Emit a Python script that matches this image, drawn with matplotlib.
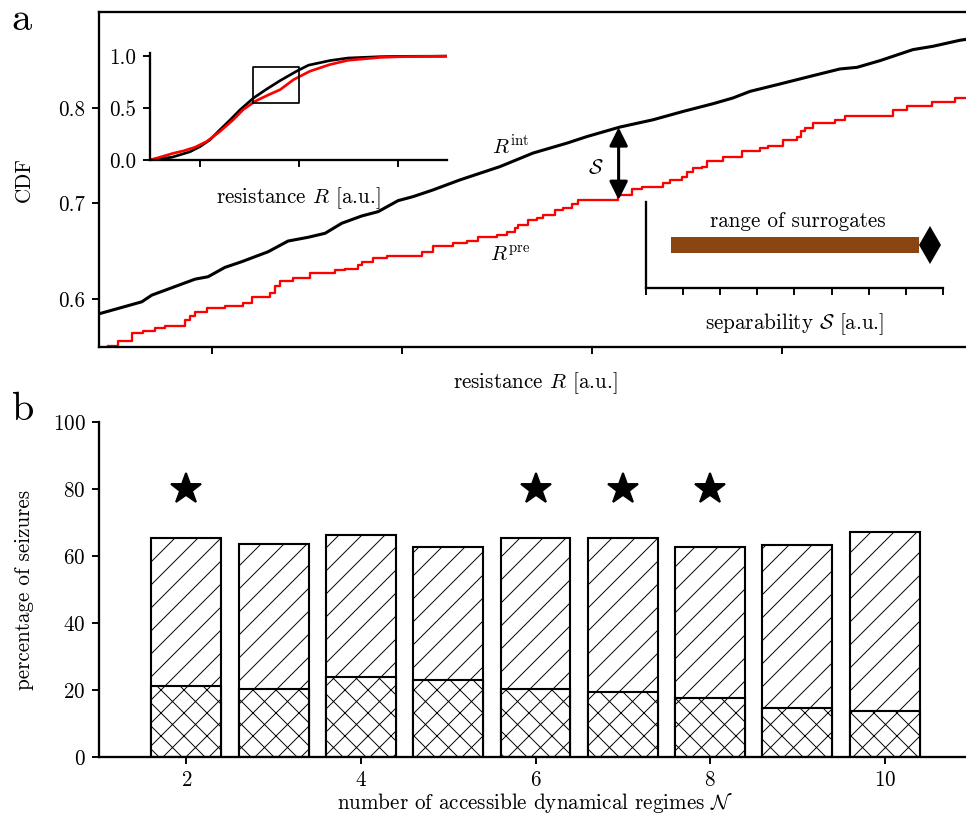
import matplotlib
matplotlib.use("Agg")
import matplotlib.pyplot as plt
import numpy as np

plt.rcParams['font.family'] = 'serif'
plt.rcParams['font.serif'] = ['cmr10']
plt.rcParams['mathtext.fontset'] = 'cm'
plt.rcParams['axes.formatter.use_mathtext'] = True
plt.rcParams['font.size'] = 11
plt.rcParams['axes.linewidth'] = 1.2
plt.rcParams['hatch.linewidth'] = 0.5
plt.rcParams['xtick.major.width'] = 1.0
plt.rcParams['ytick.major.width'] = 1.0

# --- panel a: empirical CDFs (zoomed) ---
r_int_x = [0.411, 0.630, 0.683, 0.911, 0.979, 1.068, 1.156, 1.295, 1.400, 1.505,
           1.595, 1.683, 1.788, 1.874, 1.979, 2.058, 2.163, 2.305, 2.516, 2.689,
           2.868, 2.974, 3.147, 3.321, 3.479, 3.637, 3.742, 3.832, 3.989, 4.163,
           4.305, 4.395, 4.516, 4.689, 4.795, 4.937, 5.000]
r_int_y = [0.5850, 0.5972, 0.6042, 0.6209, 0.6234, 0.6332, 0.6391, 0.6495, 0.6607, 0.6646,
           0.6688, 0.6793, 0.6869, 0.6914, 0.7029, 0.7071, 0.7141, 0.7246, 0.7385, 0.7526,
           0.7630, 0.7699, 0.7798, 0.7874, 0.7961, 0.8042, 0.8102, 0.8171, 0.8248, 0.8335,
           0.8405, 0.8422, 0.8492, 0.8607, 0.8642, 0.8705, 0.8723]

r_pre_x = [0.453, 0.505, 0.577, 0.637, 0.700, 0.753, 0.858, 0.884, 0.911, 0.972,
           1.068, 1.163, 1.209, 1.305, 1.332, 1.358, 1.426, 1.516, 1.647, 1.700,
           1.768, 1.788, 1.847, 1.919, 2.104, 2.163, 2.268, 2.342, 2.400, 2.500,
           2.553, 2.595, 2.611, 2.663, 2.711, 2.742, 2.805, 2.847, 2.895, 2.926,
           3.137, 3.211, 3.263, 3.374, 3.411, 3.474, 3.500, 3.532, 3.577, 3.604,
           3.689, 3.788, 3.884, 3.926, 4.005, 4.079, 4.098, 4.121, 4.163, 4.279,
           4.332, 4.584, 4.658, 4.789, 4.911, 5.000]
r_pre_y = [0.5511, 0.5560, 0.5641, 0.5668, 0.5699, 0.5721, 0.5780, 0.5822, 0.5861, 0.5909,
           0.5931, 0.5955, 0.6018, 0.6060, 0.6136, 0.6192, 0.6223, 0.6275, 0.6300, 0.6317,
           0.6356, 0.6391, 0.6426, 0.6450, 0.6495, 0.6558, 0.6583, 0.6610, 0.6646, 0.6670,
           0.6705, 0.6740, 0.6775, 0.6827, 0.6851, 0.6880, 0.6932, 0.6950, 0.6995, 0.7037,
           0.7089, 0.7149, 0.7176, 0.7212, 0.7246, 0.7274, 0.7333, 0.7369, 0.7385, 0.7448,
           0.7480, 0.7550, 0.7584, 0.7602, 0.7658, 0.7699, 0.7752, 0.7787, 0.7840, 0.7874,
           0.7916, 0.7972, 0.8021, 0.8055, 0.8102, 0.8102]

sep_x = 3.14
sep_lo, sep_hi = 0.7037, 0.7795

# inset: full CDFs
full_int_x = [0.0, 0.10, 0.44, 0.81, 1.01, 1.21, 1.41, 1.62, 1.82, 2.09, 2.36, 2.63,
              2.96, 3.20, 3.64, 4.0, 4.65, 5.0, 6.0]
full_int_y = [0.0, 0.010, 0.026, 0.080, 0.129, 0.194, 0.290, 0.387, 0.484, 0.597, 0.684,
              0.765, 0.855, 0.913, 0.958, 0.982, 0.995, 0.998, 1.0]
full_pre_x = [0.0, 0.10, 0.47, 0.67, 0.91, 1.14, 1.41, 1.68, 1.88, 2.12, 2.36, 2.63,
              2.90, 3.23, 3.64, 4.0, 4.65, 5.0, 6.0]
full_pre_y = [0.0, 0.013, 0.065, 0.087, 0.123, 0.177, 0.274, 0.387, 0.484, 0.565, 0.620,
              0.678, 0.774, 0.855, 0.920, 0.960, 0.988, 0.994, 1.0]
zoom_box = (2.07, 0.55, 3.01, 0.90)

# inset: surrogates
surr_lo, surr_hi = 0.68, 7.35
s_orig = 7.65

# --- panel b ---
regimes = [2, 3, 4, 5, 6, 7, 8, 9, 10]
pct_total = [65.4, 63.5, 66.2, 62.6, 65.4, 65.4, 62.6, 63.4, 67.1]
pct_lower = [21.2, 20.3, 24.0, 23.1, 20.3, 19.3, 17.5, 14.7, 13.8]
significant = [2, 6, 7, 8]

fig = plt.figure(figsize=(7.0, 5.935), dpi=138)

# panel a
ax = fig.add_axes([0.1025, 0.5763, 0.9037, 0.409])
ax.plot(r_int_x, r_int_y, color='black', lw=1.6)
ax.step(r_pre_x, r_pre_y, where='post', color='red', lw=1.2)
ax.annotate('', xy=(sep_x, sep_hi), xytext=(sep_x, sep_lo),
            arrowprops=dict(arrowstyle='<|-|>', color='black', lw=1.6,
                            mutation_scale=20, shrinkA=0, shrinkB=0))
ax.text(sep_x - 0.08, 0.737, r'$\mathcal{S}$', ha='right', va='center')
ax.text(2.57, 0.760, r'$R^{\rm int}$', ha='center', va='center')
ax.text(2.57, 0.646, r'$R^{\rm pre}$', ha='center', va='center')
ax.set_xlim(0.405, 5.0)
ax.set_ylim(0.55, 0.90)
ax.set_xticks([1, 2, 3, 4])
ax.set_xticklabels([])
ax.set_yticks([0.6, 0.7, 0.8])
ax.set_yticklabels(['0.6', '0.7', '0.8'])
ax.spines['right'].set_visible(False)
ax.set_ylabel('CDF')
ax.yaxis.set_label_coords(-0.075, 0.5)
ax.set_xlabel(r'resistance $R$ [a.u.]')
ax.xaxis.set_label_coords(0.5, -0.07)

ins = fig.add_axes([0.1553, 0.8046, 0.3075, 0.1306])
ins.plot(full_int_x, full_int_y, color='black', lw=1.4)
ins.plot(full_pre_x, full_pre_y, color='red', lw=1.4)
bx0, by0, bx1, by1 = zoom_box
ins.plot([bx0, bx1, bx1, bx0, bx0], [by0, by0, by1, by1, by0], color='black', lw=0.9)
ins.set_xlim(0, 6)
ins.set_ylim(0, 1.03)
ins.set_xticks([1, 3, 5])
ins.set_xticklabels([])
ins.set_yticks([0, 0.5, 1.0])
ins.set_yticklabels(['0.0', '0.5', '1.0'])
ins.spines['top'].set_visible(False)
ins.spines['right'].set_visible(False)
ins.set_xlabel(r'resistance $R$ [a.u.]', labelpad=6)

sur = fig.add_axes([0.6687, 0.6484, 0.3075, 0.105])
sur.fill_between([surr_lo, surr_hi], 0.405, 0.595, color='#8B4513', lw=0)
sur.plot([s_orig], [0.5], marker='d', color='black', ms=14, mew=0)
sur.text(4.1, 0.78, 'range of surrogates', ha='center', va='center')
sur.set_xlim(0, 8)
sur.set_ylim(0, 1)
sur.set_xticks(range(9))
sur.set_xticklabels([])
sur.set_yticks([])
sur.spines['top'].set_visible(False)
sur.spines['right'].set_visible(False)
sur.set_xlabel(r'separability $\mathcal{S}$ [a.u.]', labelpad=5)

# panel b
bx = fig.add_axes([0.1025, 0.0757, 0.9037, 0.409])
bx.bar(regimes, pct_total, width=0.8, color='white', edgecolor='black', hatch='//', lw=1.1)
bx.bar(regimes, pct_lower, width=0.8, color='white', edgecolor='black', hatch='xx', lw=1.1)
bx.plot(significant, [80] * len(significant), ls='none', marker='*', color='black', ms=17)
bx.set_xlim(1, 11)
bx.set_ylim(0, 100)
bx.set_xticks([2, 4, 6, 8, 10])
bx.set_yticks([0, 20, 40, 60, 80, 100])
bx.spines['top'].set_visible(False)
bx.spines['right'].set_visible(False)
bx.set_ylabel('percentage of seizures')
bx.yaxis.set_label_coords(-0.075, 0.5)
bx.set_xlabel(r'number of accessible dynamical regimes $\mathcal{N}$')
bx.xaxis.set_label_coords(0.5, -0.1)

fig.text(0.012, 0.975, 'a', fontsize=21, va='center', ha='left')
fig.text(0.012, 0.499, 'b', fontsize=21, va='center', ha='left')

fig.savefig('out.png', dpi=138)
